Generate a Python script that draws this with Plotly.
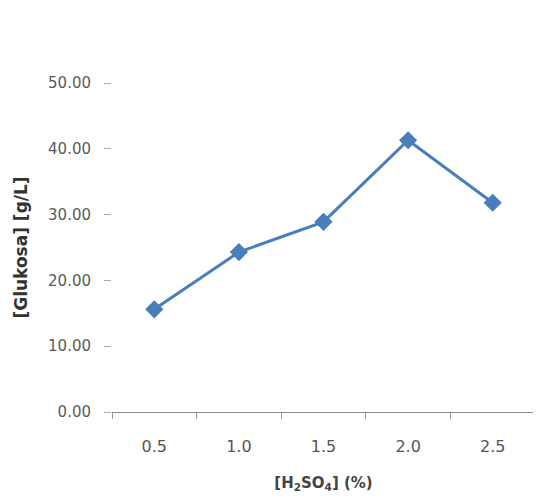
import plotly.graph_objects as go

categories = ["0.5", "1.0", "1.5", "2.0", "2.5"]
glukosa = [15.6, 24.3, 28.9, 41.3, 31.8]
y_ticks = [0, 10, 20, 30, 40, 50]
y_tick_labels = ["0.00", "10.00", "20.00", "30.00", "40.00", "50.00"]

blue = "#4A7EBB"

fig = go.Figure()
fig.add_trace(go.Scatter(
    x=categories, y=glukosa, mode="lines+markers",
    line=dict(color=blue, width=3),
    marker=dict(symbol="diamond", size=14, color=blue),
    showlegend=False,
))

fig.update_layout(
    width=541, height=501,
    margin=dict(l=102, r=14, t=75, b=97),
    paper_bgcolor="white", plot_bgcolor="white",
    font=dict(family="DejaVu Sans, sans-serif", size=14, color="#555555"),
    xaxis=dict(
        type="category", range=[-0.5, 4.5],
        showline=True, linecolor="#888888", linewidth=1,
        ticks="outside", tickson="boundaries", ticklen=6, tickcolor="#999999",
        showgrid=False, zeroline=False,
        ticklabelstandoff=20,
        tickfont=dict(size=16, color="#555555"),
        title=dict(text="<b>[H<sub>2</sub>SO<sub>4</sub>] (%)</b>",
                   font=dict(size=15, color="#444444"), standoff=22),
    ),
    yaxis=dict(
        range=[0, 50], tickvals=y_ticks, ticktext=y_tick_labels,
        showline=False, showgrid=False, zeroline=False,
        ticks="outside", ticklen=7, tickcolor="#aaaaaa",
        ticklabelstandoff=10,
        tickfont=dict(size=15, color="#5a5a5a"),
        title=dict(text="<b>[Glukosa] [g/L]</b>",
                   font=dict(size=17, color="#333333"), standoff=16),
    ),
)

fig.write_html("out.html")
